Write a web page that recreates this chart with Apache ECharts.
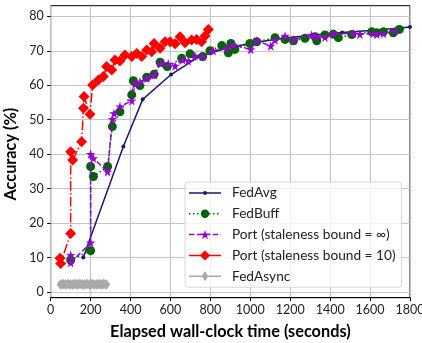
<!DOCTYPE html>
<html>
<head>
<meta charset="utf-8">
<script src="https://cdn.jsdelivr.net/npm/echarts@6/dist/echarts.min.js"></script>
<style>
  html, body { margin: 0; padding: 0; background: #fff; }
  #chart { width: 422px; height: 343px; }
</style>
</head>
<body>
<div id="chart"></div>
<script>
const FONT = 'Lato'

// elapsed time (s) / accuracy (%) per method
const fedAvgT = [163, 364, 461, 603, 745, 890, 1030, 1175, 1320, 1460, 1600, 1740, 1800]
const fedAvgAcc = [10.0, 42.2, 55.9, 63.1, 68.4, 70.9, 72.5, 73.7, 74.6, 75.3, 75.9, 76.5, 76.9]

const fedBuffT = [100, 200, 200, 214, 285, 309, 347, 406, 414, 447, 481, 518, 548, 584, 656, 698, 761, 798,
  857, 890, 903, 923, 998, 1032, 1124, 1174, 1216, 1274, 1324, 1333, 1374, 1416, 1441, 1508, 1608, 1633,
  1667, 1716, 1747]
const fedBuffAcc = [9.3, 12.0, 36.4, 33.5, 36.4, 48.0, 52.3, 57.2, 61.3, 59.9, 62.3, 63.2, 66.7, 65.4, 67.8,
  69.1, 68.3, 70.0, 71.5, 69.4, 72.1, 70.4, 72.1, 72.6, 73.8, 73.3, 72.9, 73.6, 74.1, 72.9, 74.6, 74.8, 73.8,
  74.7, 75.5, 75.2, 75.5, 75.2, 76.2]

const portInfT = [100, 100, 200, 200, 214, 285, 309, 317, 347, 406, 423, 447, 481, 518, 551, 589, 623, 661,
  689, 723, 761, 814, 881, 915, 1002, 1032, 1102, 1124, 1174, 1216, 1307, 1333, 1374, 1416, 1516, 1549,
  1616, 1633, 1667, 1725]
const portInfAcc = [10.7, 8.5, 14.3, 40.0, 38.8, 34.9, 50.2, 51.8, 53.8, 55.5, 60.3, 61.0, 62.0, 63.0, 66.3,
  66.2, 65.6, 67.3, 67.0, 68.5, 68.3, 70.0, 70.7, 71.7, 70.4, 72.9, 71.4, 73.1, 74.3, 73.3, 74.6, 74.1, 73.9,
  75.0, 75.0, 74.8, 75.0, 74.8, 75.0, 75.8]

const port10T = [47, 50, 100, 100, 110, 155, 164, 167, 197, 210, 239, 264, 280, 306, 322, 347, 372, 406, 431,
  456, 481, 506, 518, 548, 573, 598, 623, 648, 673, 706, 731, 756, 773, 790]
const port10Acc = [9.8, 8.3, 17.0, 40.7, 38.3, 43.6, 53.3, 56.7, 51.6, 60.1, 61.5, 62.5, 65.4, 64.4, 67.3,
  67.0, 68.8, 68.3, 69.2, 68.3, 70.2, 69.7, 72.1, 70.7, 72.6, 72.6, 72.0, 74.1, 72.3, 73.1, 73.3, 72.6,
  74.3, 76.2]

const fedAsyncT = [50, 62, 74, 86, 98, 110, 122, 134, 146, 158, 170, 182, 194, 206, 218, 230, 242, 254, 266, 278]
const fedAsyncAcc = [2.2, 2.3, 2.2, 2.3, 2.2, 2.2, 2.3, 2.2, 2.3, 2.2, 2.2, 2.3, 2.2, 2.3, 2.2, 2.2, 2.3, 2.2,
  2.3, 2.2]

const xTicks = [0, 200, 400, 600, 800, 1000, 1200, 1400, 1600, 1800]
const yTicks = [0, 10, 20, 30, 40, 50, 60, 70, 80]

const zip = (xs, ys) => xs.map((x, i) => [x, ys[i]])
const STAR = 'path://M0,-1L0.2245,-0.309L0.951,-0.309L0.363,0.118L0.588,0.809L0,0.382L-0.588,0.809L-0.363,0.118L-0.951,-0.309L-0.2245,-0.309Z'

// legend icons (32x14 box): line pattern + marker, like matplotlib handles
const LW = 32, LH = 14, CY = 7
const anchors = `M0,0L0.01,0L0,0.01Z M${LW},${LH}L${LW - 0.01},${LH}L${LW},${LH - 0.01}Z`
function segs(dash, gap) {
  let p = ''
  for (let x = 0; x < LW; x += dash + gap) {
    const x2 = Math.min(LW, x + dash)
    p += `M${x},${CY - 0.75}H${x2}V${CY + 0.75}H${x}Z `
  }
  return p
}
const circle = (r) => `M${16 - r},${CY}A${r},${r} 0 1,1 ${16 + r},${CY}A${r},${r} 0 1,1 ${16 - r},${CY}Z`
const diamond = (hw, hh) => `M16,${CY - hh}L${16 + hw},${CY}L16,${CY + hh}L${16 - hw},${CY}Z`
function star(r) {
  const pts = [[0, -1], [0.2245, -0.309], [0.951, -0.309], [0.363, 0.118], [0.588, 0.809], [0, 0.382],
    [-0.588, 0.809], [-0.363, 0.118], [-0.951, -0.309], [-0.2245, -0.309]]
  return 'M' + pts.map(([a, b]) => `${(16 + a * r).toFixed(2)},${(CY + 0.5 + b * r).toFixed(2)}`).join('L') + 'Z'
}
const iconAvg = 'path://' + anchors + segs(LW, 0) + circle(2)
const iconBuff = 'path://' + anchors + segs(1.5, 2.5) + circle(4.2)
const iconInf = 'path://' + anchors + segs(5.5, 2.4) + star(5)
const icon10 = 'path://' + anchors + segs(LW, 0) + diamond(5.2, 5.2)
const iconAsync = 'path://' + anchors + segs(LW, 0) + diamond(3.2, 5)

const chart = echarts.init(document.getElementById('chart'), null, { renderer: 'canvas' })

const plainAxis = {
  axisLine: { show: false }, axisTick: { show: false }, axisLabel: { show: false }, splitLine: { show: false },
}

chart.setOption({
  animation: false,
  textStyle: { fontFamily: FONT },
  grid: [
    // data area: y 0..80
    { left: 50.7, right: 12, top: 16.3, bottom: 51, show: false, outerBoundsMode: 'none', containLabel: false },
    // full axes frame (matplotlib margins)
    { left: 50.7, right: 12, top: 5.7, bottom: 45.3, show: true, borderColor: '#000', borderWidth: 1,
      outerBoundsMode: 'none', containLabel: false },
  ],
  xAxis: [
    { gridIndex: 0, type: 'value', min: 0, max: 1800, ...plainAxis },
    {
      gridIndex: 1, type: 'value', min: xTicks[0], max: xTicks[xTicks.length - 1], interval: 200,
      name: 'Elapsed wall-clock time (seconds)', nameLocation: 'middle', nameGap: 26,
      nameTextStyle: { fontFamily: FONT, fontSize: 16.3, fontWeight: 'bold', color: '#000' },
      axisLine: { show: true, lineStyle: { color: '#000', width: 1 } },
      axisTick: { show: true, inside: false, length: 3.5, lineStyle: { color: '#000' } },
      axisLabel: { color: '#222', fontSize: 12.5, margin: 6, formatter: (v) => String(v), hideOverlap: false },
      splitLine: { show: true, lineStyle: { color: '#c4c4c4', width: 1.2 } },
    },
  ],
  yAxis: [
    {
      gridIndex: 0, type: 'value', min: yTicks[0], max: yTicks[yTicks.length - 1], interval: 10,
      name: 'Accuracy (%)', nameLocation: 'middle', nameGap: 30,
      nameTextStyle: { fontFamily: FONT, fontSize: 16.3, fontWeight: 'bold', color: '#000' },
      axisLine: { show: false },
      axisTick: { show: true, inside: false, length: 3.5, lineStyle: { color: '#000' } },
      axisLabel: { color: '#222', fontSize: 12.5, margin: 7 },
      splitLine: { show: true, lineStyle: { color: '#c4c4c4', width: 1.2 } },
    },
    { gridIndex: 1, type: 'value', min: 0, max: 1, ...plainAxis },
  ],
  legend: {
    orient: 'vertical',
    left: 185,
    top: 182,
    padding: [4, 6, 4, 4],
    itemWidth: LW,
    itemHeight: LH,
    itemGap: 6.8,
    backgroundColor: 'rgba(255,255,255,0.8)',
    borderColor: '#d6d6d6',
    borderWidth: 1,
    borderRadius: 3,
    textStyle: { fontFamily: FONT, fontSize: 13.7, color: '#222', padding: [0, 0, 0, 6] },
    data: [
      { name: 'FedAvg', icon: iconAvg },
      { name: 'FedBuff', icon: iconBuff },
      { name: 'Port (staleness bound = ∞)', icon: iconInf },
      { name: 'Port (staleness bound = 10)', icon: icon10 },
      { name: 'FedAsync', icon: iconAsync },
    ],
  },
  series: [
    {
      name: 'FedAvg', type: 'line', xAxisIndex: 0, yAxisIndex: 0, z: 2,
      data: zip(fedAvgT, fedAvgAcc),
      symbol: 'circle', symbolSize: 4,
      lineStyle: { color: '#191970', width: 1.5 },
      itemStyle: { color: '#191970' },
    },
    {
      name: 'FedBuff', type: 'line', xAxisIndex: 0, yAxisIndex: 0, z: 3,
      data: zip(fedBuffT, fedBuffAcc),
      symbol: 'circle', symbolSize: 9,
      lineStyle: { color: '#006400', width: 1.5, type: [1.5, 2.5] },
      itemStyle: { color: '#006400' },
    },
    {
      name: 'Port (staleness bound = ∞)', type: 'line', xAxisIndex: 0, yAxisIndex: 0, z: 4,
      data: zip(portInfT, portInfAcc),
      symbol: STAR, symbolSize: 9.5,
      lineStyle: { color: '#9400d3', width: 1.5, type: [5.5, 2.4] },
      itemStyle: { color: '#9400d3' },
    },
    {
      name: 'Port (staleness bound = 10)', type: 'line', xAxisIndex: 0, yAxisIndex: 0, z: 5,
      data: zip(port10T, port10Acc),
      symbol: 'diamond', symbolSize: 11,
      lineStyle: { color: '#ff0000', width: 1.5, type: [9.6, 2.4, 1.5, 2.4] },
      itemStyle: { color: '#ff0000' },
    },
    {
      name: 'FedAsync', type: 'line', xAxisIndex: 0, yAxisIndex: 0, z: 6,
      data: zip(fedAsyncT, fedAsyncAcc),
      symbol: 'diamond', symbolSize: [8, 11],
      lineStyle: { color: '#a9a9a9', width: 1.5 },
      itemStyle: { color: '#a9a9a9' },
    },
  ],
})
</script>
</body>
</html>
